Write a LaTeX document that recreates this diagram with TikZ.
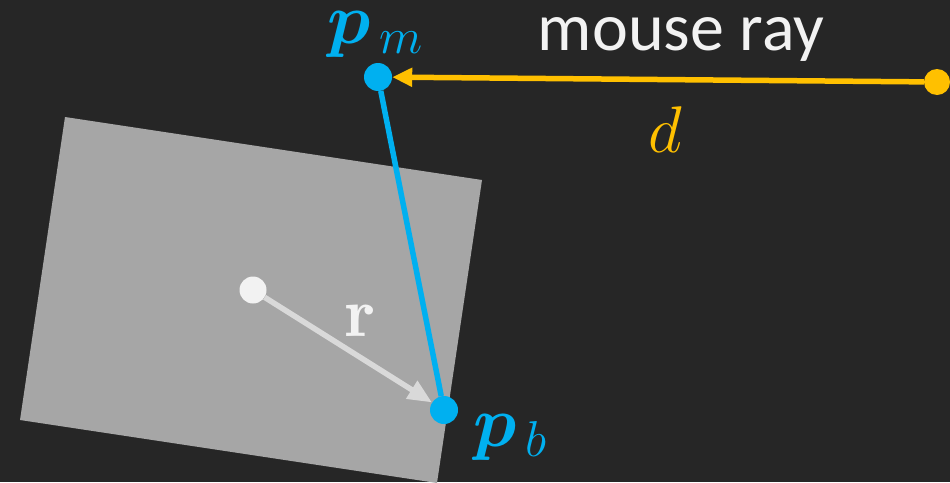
\RequirePackage{fix-cm}
\documentclass[tikz,border=0pt]{standalone}
\usepackage{amsmath,bm}
\usepackage{fontspec}
\newfontfamily\labelfont{Carlito}
\usetikzlibrary{arrows.meta}
\definecolor{bgc}{HTML}{262626}
\definecolor{rectc}{HTML}{A6A6A6}
\definecolor{bluec}{HTML}{00B0F0}
\definecolor{yellowc}{HTML}{FFC000}
\definecolor{whitec}{HTML}{F2F2F2}
\definecolor{arrowc}{HTML}{D9D9D9}
\tikzset{
  dotnode/.style={circle, inner sep=0pt, minimum size=#1},
  mathlabel/.style={inner sep=0pt, anchor=base, font=\fontsize{72}{80}\selectfont},
}
\begin{document}
\begin{tikzpicture}[x=1pt,y=-1pt]
\fill[bgc] (0,0) rectangle (950,482);
\useasboundingbox (0,0) rectangle (950,482);
\begin{scope}
\clip (0,0) rectangle (950,482);
\fill[rectc] (65,117) -- (482,180) -- (437,483) -- (20,420) -- cycle;
\end{scope}
% nodes
\node[dotnode=27pt, fill=whitec] (c) at (253,290) {};
\node[dotnode=28pt, fill=bluec] (pb) at (444,410) {};
\node[dotnode=28pt, fill=bluec] (pm) at (378,77) {};
\node[dotnode=26pt, fill=yellowc] (ray) at (937,82) {};
% connectors
\draw[arrowc, line width=5.5pt, -{Triangle[length=24pt,width=20pt]}] (c) -- (pb);
\draw[bluec, line width=5.5pt] (pm) -- (pb);
\draw[yellowc, line width=5.5pt, -{Triangle[length=20pt,width=18pt]}] (ray) -- (pm);
% labels
\node[mathlabel, text=bluec] (lpm) at (375,43) {$\bm{p}_{\,m}$};
\node[mathlabel, text=bluec] (lpb) at (510,446) {$\bm{p}_{\,b}$};
\node[mathlabel, text=yellowc, font=\fontsize{66}{72}\selectfont] (ld) at (665,152) {$d$};
\node[mathlabel, text=whitec, font=\fontsize{70}{76}\selectfont] (lr) at (360,336) {$\mathbf{r}$};
\node[inner sep=0pt, anchor=base, text=whitec, font=\labelfont\fontsize{68}{74}\selectfont] (lray) at (681,50) {mouse ray};
\end{tikzpicture}
\end{document}
